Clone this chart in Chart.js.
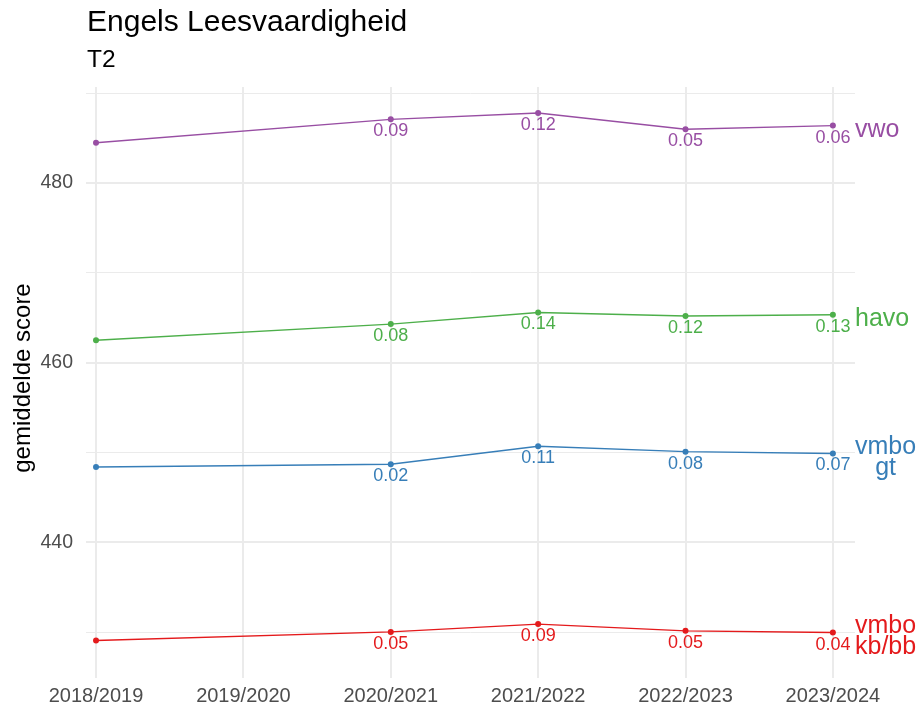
<!DOCTYPE html>
<html>
<head>
<meta charset="utf-8">
<script src="https://cdn.jsdelivr.net/npm/chart.js@4.4.1/dist/chart.umd.min.js"></script>
<style>
  html, body { margin: 0; padding: 0; background: #fff; }
  #wrap { width: 922px; height: 713px; }
</style>
</head>
<body>
<div id="wrap"><canvas id="myChart" width="922" height="713"></canvas></div>
<script>
// Schooljaren op de x-as
var jaren = ["2018/2019", "2019/2020", "2020/2021", "2021/2022", "2022/2023", "2023/2024"];
var jaarIndex = [0, 2, 3, 4, 5]; // 2019/2020 heeft geen meting

// Gemiddelde scores per niveau
var vwo = [484.5, 487.1, 487.8, 486.0, 486.4];
var havo = [462.5, 464.3, 465.6, 465.2, 465.35];
var vmboGt = [448.4, 448.7, 450.7, 450.1, 449.9];
var vmboKb = [429.07, 430.03, 430.9, 430.15, 429.96];

// Effectgroottes onder de punten (eerste meting heeft geen label)
var vwoLabels = ["", "0.09", "0.12", "0.05", "0.06"];
var havoLabels = ["", "0.08", "0.14", "0.12", "0.13"];
var gtLabels = ["", "0.02", "0.11", "0.08", "0.07"];
var kbLabels = ["", "0.05", "0.09", "0.05", "0.04"];

var yTicks = [430, 440, 450, 460, 470, 480, 490];
var yLabelTicks = [440, 460, 480];

var niveaus = [
  { naam: ["vwo"], data: vwo, labels: vwoLabels, kleur: "#984EA3" },
  { naam: ["havo"], data: havo, labels: havoLabels, kleur: "#4DAF4A" },
  { naam: ["vmbo", "gt"], data: vmboGt, labels: gtLabels, kleur: "#377EB8" },
  { naam: ["vmbo", "kb/bb"], data: vmboKb, labels: kbLabels, kleur: "#E41A1C" },
];

var lettertype = "'Liberation Sans', Arial, sans-serif";

function punten(waarden) {
  return waarden.map(function (v, i) {
    return { x: jaarIndex[i], y: v };
  });
}

// Tekst: titel, as-titel, labels onder punten en namen rechts
var tekstPlugin = {
  id: "tekst",
  afterDatasetsDraw: function (chart) {
    var ctx = chart.ctx;
    var area = chart.chartArea;
    var xs = chart.scales.x;
    var ys = chart.scales.y;
    ctx.save();

    ctx.fillStyle = "#000";
    ctx.textAlign = "left";
    ctx.textBaseline = "alphabetic";
    ctx.font = "30px " + lettertype;
    ctx.fillText("Engels Leesvaardigheid", area.left + 1, 31);
    ctx.font = "24.5px " + lettertype;
    ctx.fillText("T2", area.left + 1, 67);

    ctx.save();
    ctx.translate(23, 378);
    ctx.rotate(-Math.PI / 2);
    ctx.textAlign = "center";
    ctx.textBaseline = "middle";
    ctx.font = "24px " + lettertype;
    ctx.fillText("gemiddelde score", 0, 0);
    ctx.restore();

    niveaus.forEach(function (n) {
      ctx.fillStyle = n.kleur;
      ctx.font = "18px " + lettertype;
      ctx.textAlign = "center";
      ctx.textBaseline = "middle";
      n.data.forEach(function (v, i) {
        if (!n.labels[i]) return;
        ctx.fillText(n.labels[i], xs.getPixelForValue(jaarIndex[i]), ys.getPixelForValue(v) + 12);
      });

      ctx.font = "25px " + lettertype;
      var breedte = 0;
      n.naam.forEach(function (t) {
        breedte = Math.max(breedte, ctx.measureText(t).width);
      });
      var lijnH = 21.5;
      var midden = ys.getPixelForValue(n.data[n.data.length - 1]) + 4;
      var start = midden - ((n.naam.length - 1) * lijnH) / 2;
      n.naam.forEach(function (t, j) {
        ctx.fillText(t, area.right + breedte / 2, start + j * lijnH);
      });
    });
    ctx.restore();
  },
};

new Chart("myChart", {
  type: "line",
  data: {
    datasets: niveaus.map(function (n) {
      return {
        label: n.naam.join(" "),
        data: punten(n.data),
        borderColor: n.kleur,
        backgroundColor: n.kleur,
        borderWidth: 1.4,
        pointRadius: 3,
        pointBorderWidth: 0,
        tension: 0,
      };
    }),
  },
  options: {
    responsive: false,
    animation: false,
    layout: { padding: { top: 87, right: 67, left: 0, bottom: 0 } },
    plugins: {
      legend: { display: false },
      title: { display: false },
      tooltip: { enabled: false },
    },
    scales: {
      x: {
        type: "linear",
        min: -0.068,
        max: 5.15,
        afterFit: function (s) { s.height = 35; },
        afterBuildTicks: function (s) {
          s.ticks = jaren.map(function (j, i) { return { value: i }; });
        },
        border: { display: false },
        grid: { color: "#EBEBEB", lineWidth: 2, drawTicks: false },
        ticks: {
          padding: 6,
          color: "#4D4D4D",
          font: { family: lettertype, size: 20 },
          maxRotation: 0,
          autoSkip: false,
          callback: function (v) { return jaren[v]; },
        },
      },
      y: {
        type: "linear",
        min: 424.9,
        max: 490.7,
        afterFit: function (s) { s.width = 86; },
        afterBuildTicks: function (s) {
          s.ticks = yTicks.map(function (v) { return { value: v }; });
        },
        border: { display: false },
        grid: {
          color: "#EBEBEB",
          drawTicks: false,
          lineWidth: function (c) {
            return yLabelTicks.indexOf(c.tick.value) >= 0 ? 2 : 1;
          },
        },
        ticks: {
          padding: 13,
          color: "#4D4D4D",
          font: { family: lettertype, size: 19.5 },
          callback: function (v) {
            return yLabelTicks.indexOf(v) >= 0 ? v : "";
          },
        },
      },
    },
  },
  plugins: [tekstPlugin],
});
</script>
</body>
</html>
